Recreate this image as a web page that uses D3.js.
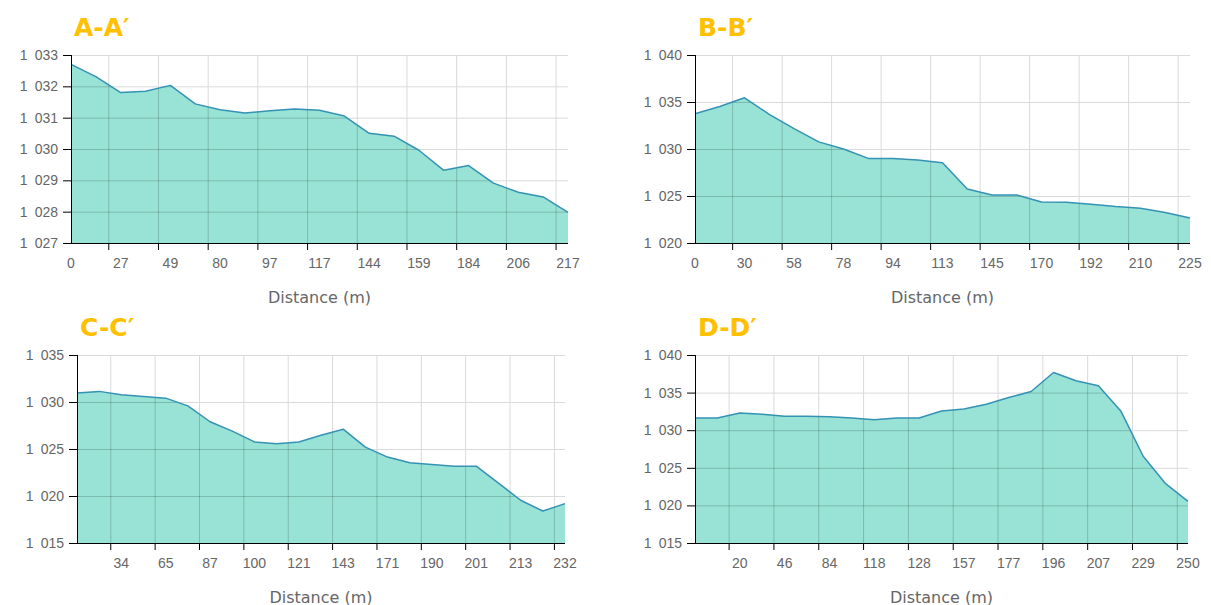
<!DOCTYPE html>
<html>
<head>
<meta charset="utf-8">
<script src="https://cdn.jsdelivr.net/npm/d3@7"></script>
<style>
    body { margin: 0; background: #fff; }
    svg { display: block; font-family: "DejaVu Sans", Verdana, sans-serif; }
    .axis text { fill: #666; font-size: 14px; }
    .axis path, .axis line { stroke: #000; }
    .grid line { stroke: #dadada; }
    .grid.over line { stroke: rgba(0, 0, 0, 0.18); }
    .grid path { display: none; }
    .title { fill: #ffc000; font-size: 25px; font-weight: bold; }
    .xlabel { fill: #666; font-size: 16px; }
</style>
</head>
<body>
<svg id="profiles" width="1211" height="605"></svg>
<script>
(function() {
    'use strict';

    // elevation (m) of every sample point along each section
    var elevA = [1032.70, 1032.31, 1031.80, 1031.84, 1032.03, 1031.44, 1031.25, 1031.15, 1031.22, 1031.28,
                 1031.24, 1031.05, 1030.50, 1030.41, 1029.96, 1029.32, 1029.47, 1028.91, 1028.62, 1028.47, 1027.98];
    var elevB = [1033.76, 1034.53, 1035.45, 1033.69, 1032.17, 1030.76, 1030.00, 1029.00, 1029.00, 1028.82,
                 1028.54, 1025.75, 1025.11, 1025.11, 1024.37, 1024.34, 1024.13, 1023.88, 1023.70, 1023.25, 1022.65];
    var elevC = [1030.95, 1031.13, 1030.77, 1030.59, 1030.41, 1029.59, 1027.90, 1026.90, 1025.75, 1025.57,
                 1025.75, 1026.47, 1027.11, 1025.20, 1024.14, 1023.53, 1023.35, 1023.17, 1023.17, 1021.38,
                 1019.55, 1018.40, 1019.19];
    var elevD = [1031.62, 1031.62, 1032.29, 1032.11, 1031.85, 1031.85, 1031.80, 1031.62, 1031.40, 1031.62,
                 1031.62, 1032.56, 1032.83, 1033.45, 1034.34, 1035.14, 1037.68, 1036.57, 1035.90, 1032.56,
                 1026.54, 1022.89, 1020.53];

    // distance labels shown under every second sample point
    var distA = ["0", "27", "49", "80", "97", "117", "144", "159", "184", "206", "217"];
    var distB = ["0", "30", "58", "78", "94", "113", "145", "170", "192", "210", "225"];
    var distC = ["34", "65", "87", "100", "121", "143", "171", "190", "201", "213", "232"];
    var distD = ["20", "46", "84", "118", "128", "157", "177", "196", "207", "229", "250"];

    // y ticks
    var yTicksA = [1027, 1028, 1029, 1030, 1031, 1032, 1033];
    var yTicksB = [1020, 1025, 1030, 1035, 1040];
    var yTicksC = [1015, 1020, 1025, 1030, 1035];
    var yTicksD = [1015, 1020, 1025, 1030, 1035, 1040];

    var panels = [
        {id: "a", name: "A-A\u2032", elev: elevA, dist: distA, firstLabel: 0, yTicks: yTicksA,
         left: 71, top: 55, width: 497, height: 188},
        {id: "b", name: "B-B\u2032", elev: elevB, dist: distB, firstLabel: 0, yTicks: yTicksB,
         left: 695, top: 55, width: 495, height: 188},
        {id: "c", name: "C-C\u2032", elev: elevC, dist: distC, firstLabel: 2, yTicks: yTicksC,
         left: 77, top: 355, width: 488, height: 188},
        {id: "d", name: "D-D\u2032", elev: elevD, dist: distD, firstLabel: 2, yTicks: yTicksD,
         left: 695, top: 355, width: 493, height: 188}
    ];

    var locale = d3.formatLocale({decimal: ",", thousands: "\u2002", grouping: [3], currency: ["", ""]});
    var fmt = locale.format(",d");

    var svg = d3.select("svg#profiles");
    var defs = svg.append("defs");

    function build_panel (p) {
        var w = p.width, h = p.height;
        var g = svg.append("g")
            .attr("transform", "translate(" + p.left + "," + p.top + ")");

        var x = d3.scaleLinear()
            .domain([0, p.elev.length - 1])
            .range([0, w]);
        var y = d3.scaleLinear()
            .domain(d3.extent(p.yTicks))
            .range([h, 0]);

        // index of the sample under each label
        var labelIdx = p.dist.map(function(d, i) { return p.firstLabel + 2 * i; });
        // grid / tick marks sit half a sample before each label
        var gridIdx = labelIdx.map(function(i) { return i - 0.5; })
            .filter(function(i) { return i >= 0; });

        var area = d3.area()
            .x(function(d, i) { return x(i); })
            .y0(h)
            .y1(function(d) { return y(d); });
        var line = d3.line()
            .x(function(d, i) { return x(i); })
            .y(function(d) { return y(d); });

        function draw_grid (cls) {
            var gg = g.append("g").attr("class", cls);
            gg.append("g")
                .attr("transform", "translate(0," + h + ")")
                .call(d3.axisBottom(x).tickValues(gridIdx).tickFormat("").tickSize(-h).tickSizeOuter(0));
            gg.append("g")
                .call(d3.axisLeft(y).tickValues(p.yTicks).tickFormat("").tickSize(-w).tickSizeOuter(0));
            return gg;
        }

        draw_grid("grid");

        g.append("path")
            .datum(p.elev)
            .attr("fill", "#98e3d5")
            .attr("d", area);

        // darker grid showing through the filled area
        defs.append("clipPath")
            .attr("id", "clip-" + p.id)
            .append("path")
            .datum(p.elev)
            .attr("d", area);
        draw_grid("grid over")
            .attr("clip-path", "url(#clip-" + p.id + ")");

        g.append("path")
            .datum(p.elev)
            .attr("fill", "none")
            .attr("stroke", "#3592b5")
            .attr("stroke-width", 1.5)
            .attr("stroke-linejoin", "round")
            .attr("d", line);

        // x axis: ticks at grid positions, labels under samples
        var xAxis = g.append("g")
            .attr("class", "x axis")
            .attr("transform", "translate(0," + h + ")")
            .call(d3.axisBottom(x).tickValues(gridIdx).tickFormat("").tickSize(7).tickSizeOuter(0));
        xAxis.select(".domain").attr("d", "M0,0.5H" + w);
        xAxis.selectAll(".lbl")
            .data(labelIdx)
            .enter().append("text")
            .attr("class", "lbl")
            .attr("x", function(d) { return x(d); })
            .attr("y", 25)
            .attr("text-anchor", "middle")
            .text(function(d, i) { return p.dist[i]; });

        var yAxis = g.append("g")
            .attr("class", "y axis")
            .call(d3.axisLeft(y).tickValues(p.yTicks).tickFormat(fmt).tickSize(8).tickPadding(5).tickSizeOuter(0));
        yAxis.select(".domain").attr("d", "M0.5,0V" + h);

        g.append("text")
            .attr("class", "xlabel")
            .attr("x", w / 2)
            .attr("y", h + 60)
            .attr("text-anchor", "middle")
            .text("Distance (m)");

        g.append("text")
            .attr("class", "title")
            .attr("x", 3)
            .attr("y", -19)
            .text(p.name);
    }

    panels.forEach(build_panel);
})();
</script>
</body>
</html>
